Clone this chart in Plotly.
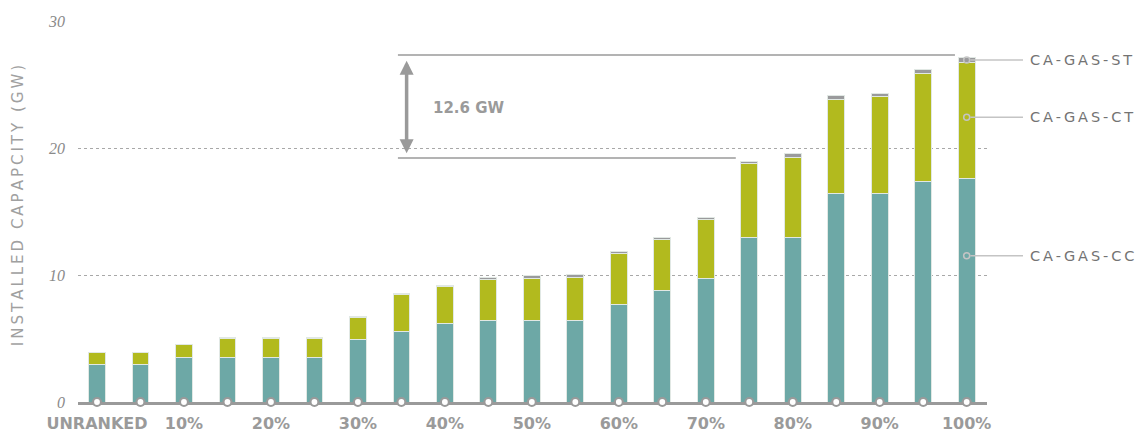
import plotly.graph_objects as go

# percentile buckets (5% steps), every other one labelled
categories = ["UNRANKED"] + [f"{p}%" for p in range(5, 101, 5)]
tick_labels = ["UNRANKED", "10%", "20%", "30%", "40%", "50%", "60%", "70%", "80%", "90%", "100%"]

# installed capacity per technology (GW)
gas_cc = [2.95, 2.95, 3.5, 3.5, 3.5, 3.5, 4.93, 5.56, 6.17, 6.43, 6.43,
          6.43, 7.69, 8.8, 9.74, 12.94, 12.94, 16.43, 16.43, 17.35, 17.6]
gas_ct = [0.91, 0.91, 1.0, 1.5, 1.5, 1.5, 1.76, 2.89, 2.91, 3.2, 3.28,
          3.39, 3.99, 4.01, 4.62, 5.86, 6.35, 7.35, 7.59, 8.55, 9.1]
gas_st = [0, 0, 0.05, 0.05, 0.05, 0.05, 0.03, 0.13, 0.13, 0.19, 0.24,
          0.21, 0.18, 0.18, 0.18, 0.15, 0.24, 0.39, 0.31, 0.3, 0.39]

series_names = ["CA-GAS-ST", "CA-GAS-CT", "CA-GAS-CC"]
label_y = [26.93, 22.42, 11.52]  # where the callouts point on the last bar

# the 12.6 GW gap annotation
gap_text = "12.6 GW"
gap_top, gap_bottom = 27.32, 19.21

GREY = "#9a9a9a"
TEAL = "#6da8a6"
OLIVE = "#b2ba1e"
STGREY = "#9a9a9c"
THIN = "\u2009"

XMIN, XMAX = -0.437, 20.467


def spaced(s):
    return THIN.join(s)


def xpaper(i):
    return (i - XMIN) / (XMAX - XMIN)


fig = go.Figure()
bar_line = dict(color="rgba(225,232,228,1)", width=1)
for name, vals, col in [("CA-GAS-CC", gas_cc, TEAL),
                        ("CA-GAS-CT", gas_ct, OLIVE),
                        ("CA-GAS-ST", gas_st, STGREY)]:
    fig.add_trace(go.Bar(x=categories, y=vals, name=name, width=0.385,
                         marker=dict(color=col, line=bar_line)))

# little tick under UNRANKED
fig.add_trace(go.Scatter(x=[categories[0], categories[0]], y=[0, -0.85], mode="lines",
                         line=dict(color=GREY, width=2), cliponaxis=False,
                         showlegend=False, hoverinfo="skip"))
# open circles along the baseline
fig.add_trace(go.Scatter(x=categories, y=[0] * len(categories), mode="markers",
                         marker=dict(symbol="circle", size=8, color="white",
                                     line=dict(color=GREY, width=2.2)),
                         cliponaxis=False, showlegend=False, hoverinfo="skip"))
# callout dots on the last bar
fig.add_trace(go.Scatter(x=[categories[-1]] * 3, y=label_y, mode="markers",
                         marker=dict(symbol="circle-open", size=6, color="#c4c4c4",
                                     line=dict(width=1.5)),
                         cliponaxis=False, showlegend=False, hoverinfo="skip"))

shapes = []
for y in label_y:
    shapes.append(dict(type="line", xref="paper", yref="y",
                       x0=xpaper(20) + 0.004, x1=1.0396, y0=y, y1=y,
                       line=dict(color="#c4c4c4", width=1.5)))
shapes.append(dict(type="line", xref="x", yref="y", x0=6.92, x1=19.73,
                   y0=gap_top, y1=gap_top, line=dict(color=GREY, width=1.5)))
shapes.append(dict(type="line", xref="x", yref="y", x0=6.92, x1=14.69,
                   y0=gap_bottom, y1=gap_bottom, line=dict(color=GREY, width=1.5)))

annotations = []
for name, y in zip(series_names, label_y):
    annotations.append(dict(xref="paper", yref="y", x=1.0455, y=y, text=spaced(name),
                            showarrow=False, xanchor="left", yanchor="middle",
                            font=dict(family="DejaVu Sans", size=14.5, color="#737373")))
annotations.append(dict(xref="x", yref="y", x=7.12, y=19.58, ax=7.12, ay=26.98,
                        axref="x", ayref="y", text="", showarrow=True,
                        arrowhead=2, startarrowhead=2, arrowside="end+start",
                        arrowsize=0.8, startarrowsize=0.8, arrowwidth=3.5,
                        arrowcolor=GREY, standoff=0, startstandoff=0))
annotations.append(dict(xref="x", yref="y", x=7.67, y=23.15, text=gap_text,
                        showarrow=False, xanchor="left", yanchor="middle",
                        font=dict(family="DejaVu Sans", size=15, color=GREY, weight="bold")))
annotations.append(dict(xref="paper", yref="paper", x=-0.066, y=0.514,
                        text=spaced("INSTALLED CAPAPCITY (GW)"), textangle=-90,
                        showarrow=False, xanchor="center", yanchor="middle",
                        font=dict(family="DejaVu Sans", size=15, color="#a0a0a0")))

# page body has an 8px margin, so the figure is 8px smaller and margins shifted
fig.update_layout(
    width=1135, height=426,
    margin=dict(l=70, r=156, t=13, b=32, autoexpand=False),
    paper_bgcolor="white", plot_bgcolor="white",
    barmode="stack", showlegend=False,
    shapes=shapes, annotations=annotations,
    xaxis=dict(type="category", range=[XMIN, XMAX], tickvals=tick_labels, ticktext=tick_labels,
               showgrid=False, showline=True, linecolor=GREY, linewidth=3,
               layer="below traces",
               ticks="", ticklabelstandoff=5, automargin=False,
               tickfont=dict(family="DejaVu Sans", size=16, color=GREY, weight="bold")),
    yaxis=dict(range=[0, 30], tickvals=[0, 10, 20, 30], showgrid=True,
               gridcolor="#a8a8a8", griddash="dot", gridwidth=1, zeroline=False,
               showline=False, ticks="", ticklabelstandoff=12, automargin=False,
               tickfont=dict(family="Liberation Serif", size=16, color="#8a8a8a", style="italic")),
)

fig.write_html("out.html")
